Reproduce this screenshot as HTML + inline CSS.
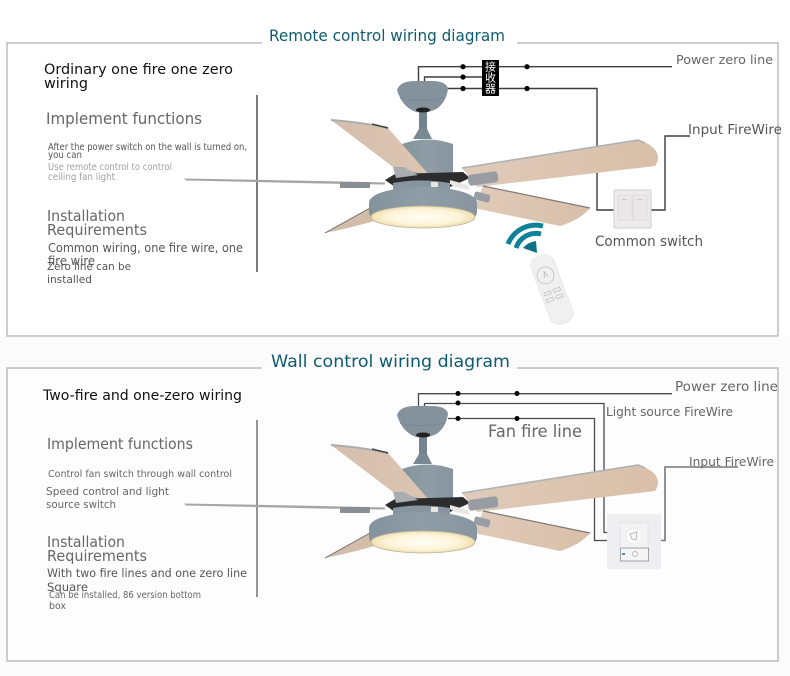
<!DOCTYPE html>
<html><head><meta charset="utf-8"><style>
html,body{margin:0;padding:0;background:#fff}
svg{display:block}
text{font-family:"DejaVu Sans","Liberation Sans","Noto Sans CJK SC",sans-serif;fill:#666}
</style></head><body>
<svg width="790" height="676" viewBox="0 0 790 676" xmlns="http://www.w3.org/2000/svg">
<defs>
<linearGradient id="wood" x1="0" y1="0" x2="1" y2="0"><stop offset="0" stop-color="#dfcbb9"/><stop offset="1" stop-color="#d9bfa9"/></linearGradient>
<linearGradient id="wood2" x1="0" y1="0" x2="1" y2="0"><stop offset="0" stop-color="#d5bfac"/><stop offset="1" stop-color="#dcc6b3"/></linearGradient>
<linearGradient id="grey" x1="0" y1="0" x2="1" y2="0"><stop offset="0" stop-color="#84929c"/><stop offset=".5" stop-color="#8f9da6"/><stop offset="1" stop-color="#88959f"/></linearGradient>
<radialGradient id="lamp"><stop offset="0" stop-color="#fffef6"/><stop offset=".7" stop-color="#fdf4d8"/><stop offset="1" stop-color="#f0deae"/></radialGradient>
<g id="fan">
 <path d="M325 233L370 208L378 220Q350 228 325 233Z" fill="#d3bda9"/>
 <path d="M325 233L370 208" stroke="#6f6a66" stroke-width="1" fill="none"/>
 <path d="M462 168L638 140Q658 146 658 158Q657 164 655 166L477 187Z" fill="url(#wood)"/>
 <path d="M462 168L638 140L645 143" stroke="#aeb2b5" stroke-width="1.600" fill="none"/>
 <path d="M483 186L590 208Q580 220 560 226L474 208Z" fill="url(#wood)"/>
 <path d="M483 186L590 208" stroke="#7e7a78" stroke-width="1.200" fill="none"/>
 <path d="M402 144Q427 135 453 144V176H402Z" fill="url(#grey)"/>
 <path d="M331 120L388 128L430 176L393 167Z" fill="url(#wood2)"/>
 <path d="M331 120Q360 122 388 128" stroke="#a9adb0" stroke-width="2" fill="none"/>
 <path d="M372 124L388 128" stroke="#444" stroke-width="1.500" fill="none"/>
 <path d="M397 90Q400 81 415 81H432Q445 81 448 88Q447 100 438 108Q428 114 416 112Q402 107 397 90Z" fill="#84929d"/>
 <path d="M400 98Q422 103 445 98" stroke="#7a8893" stroke-width="1" fill="none"/>
 <rect x="419" y="109" width="8" height="22" fill="#75838e"/>
 <ellipse cx="423" cy="110" rx="7" ry="2.500" fill="#222"/>
 <path d="M419 129H427L432 139H413Z" fill="#7a8893"/>
 <path d="M385 180L395 174L463 172L470 178L450 187H395Z" fill="#2c2c2e"/>
 <path d="M393 167L404 167L418 175L396 178Z" fill="#a9adb1"/>
 <rect x="468" y="173" width="30" height="11" rx="3" fill="#979da3" transform="rotate(-8 483 178)"/>
 <rect x="474" y="193" width="16" height="8" rx="2" fill="#979da3" transform="rotate(14 482 197)"/>
 <path d="M184 178.500L320 181L385 182.500V184.500L320 183.500L186 180.500Z" fill="#a6a5a4"/>
 <rect x="340" y="182" width="30" height="6" rx="1" fill="#888e93"/>
 <path d="M450 180L468 185L470 190L455 187L450 184Z" fill="#e8e6e2"/>
 <path d="M393 183Q420 178 450 183V192H393Z" fill="#8795a0"/>
 <path d="M369 203C369 193 395 187 423 187C451 187 477 193 477 203V212C477 223 450 228 423 228C396 228 369 223 369 212Z" fill="url(#grey)"/>
 <ellipse cx="423" cy="217" rx="52" ry="11" fill="url(#lamp)" stroke="#b8b39f" stroke-width=".8"/>
 <rect x="431" y="182" width="7" height="5" fill="#e6e6e6"/>
</g>
</defs>

<rect width="790" height="676" fill="#fff"/>
<rect x="0" y="337" width="790" height="339" fill="#fbfbfb"/>
<rect x="8" y="44" width="769" height="292" fill="#fff"/>
<rect x="8" y="369" width="769" height="292" fill="#fdfdfd"/>

<!-- frames -->
<path d="M262 43H7V336H778V43H517" fill="none" stroke="#bdbdbd" stroke-width="1.500"/>
<path d="M262 368H7V661H778V368H517" fill="none" stroke="#bdbdbd" stroke-width="1.500"/>

<!-- dividers -->
<rect x="256" y="95" width="2" height="177" fill="#7c7c7c"/>
<rect x="256" y="420" width="2" height="177" fill="#949494"/>

<!-- wires 1 -->
<g fill="none" stroke="#3d3d3d" stroke-width="1.400">
 <path d="M418.500 82V66.700H672"/>
 <path d="M424.500 82V77H490"/>
 <path d="M448 88.500H597V210H614"/>
 <path d="M651 210H665V136H690"/>
</g>
<g fill="#000"><circle cx="463" cy="66.700" r="2.600"/><circle cx="463" cy="77" r="2.600"/><circle cx="463" cy="88.500" r="2.600"/><circle cx="527" cy="66.700" r="2.600"/><circle cx="527" cy="88.500" r="2.600"/></g>

<!-- wires 2 -->
<g fill="none" stroke="#4a4a4a" stroke-width="1.300">
 <path d="M418.500 407V393.700H672"/>
 <path d="M424.500 407V403.500H604V532.500H608"/>
 <path d="M448 418.500H594.500V540.500H608"/>
 <path d="M661 540.500H665V467H738" stroke="#777" stroke-width="1.600"/>
</g>
<g fill="#000"><circle cx="458" cy="393.500" r="2.500"/><circle cx="458" cy="403" r="2.500"/><circle cx="458" cy="418.500" r="2.500"/><circle cx="517" cy="393.500" r="2.500"/><circle cx="517" cy="418.500" r="2.500"/></g>

<use href="#fan"/>
<use href="#fan" y="325"/>

<!-- receiver -->
<rect x="482" y="60" width="17" height="36" fill="#000"/>
<text x="490.500" y="70.500" font-size="11" text-anchor="middle" style="fill:#fff;font-family:'Noto Sans CJK SC',sans-serif">接</text>
<text x="490.500" y="81.500" font-size="11" text-anchor="middle" style="fill:#fff;font-family:'Noto Sans CJK SC',sans-serif">收</text>
<text x="490.500" y="92.500" font-size="11" text-anchor="middle" style="fill:#fff;font-family:'Noto Sans CJK SC',sans-serif">器</text>

<!-- switch -->
<rect x="614" y="190" width="37" height="38" rx="1.500" fill="#eeebec" stroke="#d2cecf"/>
<rect x="618" y="195" width="14" height="25" rx="1" fill="#ebe7e9" stroke="#dbd7d9" stroke-width=".7"/>
<rect x="633" y="195" width="14" height="25" rx="1" fill="#ebe7e9" stroke="#dbd7d9" stroke-width=".7"/>
<rect x="622" y="199" width="5" height="1" fill="#ccc"/><rect x="637" y="199" width="5" height="1" fill="#ccc"/>

<!-- wifi -->
<g fill="none" stroke="#0f8298" stroke-width="5">
 <path d="M508 244A30 30 0 0 1 543 226"/>
 <path d="M516 248A21 21 0 0 1 541 234"/>
</g>
<path d="M523 248Q528 242 536 241L537 253Z" fill="#0f7388"/>

<!-- remote -->
<g transform="rotate(-21 552 289.500)">
 <rect x="540" y="254" width="24" height="71" rx="9" fill="#f0f0f1" stroke="#e0e0e0" stroke-width=".6"/>
 <circle cx="551" cy="274" r="8.500" fill="none" stroke="#bbb" stroke-width=".7"/>
 <path d="M549 276L551 270L553 276" fill="none" stroke="#aaa" stroke-width=".7"/>
 <g fill="none" stroke="#b5b5b5" stroke-width=".6">
  <rect x="543" y="290" width="7" height="3"/><rect x="553" y="290" width="7" height="3"/>
  <rect x="543" y="297" width="7" height="3"/><rect x="553" y="297" width="7" height="3"/>
 </g>
</g>

<!-- wall panel -->
<rect x="607" y="514" width="54" height="55" rx="1.500" fill="#eeeef0"/>
<rect x="620" y="523" width="28" height="38" fill="#f3f3f4" stroke="#dadada" stroke-width=".6"/>
<circle cx="634" cy="536" r="8" fill="#fafafa" stroke="#e2e2e2" stroke-width=".6"/>
<path d="M630 534L637 532L636 540L632 539Z" fill="none" stroke="#aaa" stroke-width=".8"/>
<rect x="620.500" y="548" width="28" height="13" fill="#f5f5f5" stroke="#8f8f8f" stroke-width=".8"/>
<rect x="622" y="553" width="3" height="2" fill="#4a8fa5"/>
<circle cx="635" cy="554" r="2.500" fill="none" stroke="#aaa" stroke-width=".7"/>

<!-- titles -->
<text x="269" y="41" font-size="16" textLength="236" lengthAdjust="spacingAndGlyphs" style="fill:#0f5c70">Remote control wiring diagram</text>
<text x="271" y="367" font-size="17" textLength="239" lengthAdjust="spacingAndGlyphs" style="fill:#0f5c70">Wall control wiring diagram</text>

<!-- left text 1 -->
<text x="44" y="74" font-size="14" textLength="189" lengthAdjust="spacingAndGlyphs" style="fill:#111">Ordinary one fire one zero</text>
<text x="44" y="88" font-size="14" textLength="44" lengthAdjust="spacingAndGlyphs" style="fill:#111">wiring</text>
<text x="46" y="124" font-size="16" textLength="156" lengthAdjust="spacingAndGlyphs">Implement functions</text>
<text x="48" y="150" font-size="10" textLength="199" lengthAdjust="spacingAndGlyphs" style="fill:#555">After the power switch on the wall is turned on,</text>
<text x="48" y="158" font-size="10" textLength="34" lengthAdjust="spacingAndGlyphs" style="fill:#555">you can</text>
<text x="48" y="170" font-size="10" textLength="124" lengthAdjust="spacingAndGlyphs" style="fill:#a0a0a0">Use remote control to control</text>
<text x="48" y="180" font-size="10" textLength="67" lengthAdjust="spacingAndGlyphs" style="fill:#a0a0a0">ceiling fan light</text>
<text x="47" y="221" font-size="15" textLength="78" lengthAdjust="spacingAndGlyphs">Installation</text>
<text x="47" y="235" font-size="15" textLength="100" lengthAdjust="spacingAndGlyphs">Requirements</text>
<text x="48" y="252" font-size="12.500" textLength="195" lengthAdjust="spacingAndGlyphs" style="fill:#555">Common wiring, one fire wire, one</text>
<text x="48" y="265" font-size="12.500" textLength="47" lengthAdjust="spacingAndGlyphs" style="fill:#555">fire wire</text>
<text x="47" y="270" font-size="11" textLength="84" lengthAdjust="spacingAndGlyphs" style="fill:#555">Zero line can be</text>
<text x="47" y="283" font-size="11" textLength="45" lengthAdjust="spacingAndGlyphs" style="fill:#555">installed</text>

<!-- left text 2 -->
<text x="43" y="400" font-size="14" textLength="199" lengthAdjust="spacingAndGlyphs" style="fill:#111">Two-fire and one-zero wiring</text>
<text x="47" y="449" font-size="15" textLength="146" lengthAdjust="spacingAndGlyphs">Implement functions</text>
<text x="48" y="477" font-size="10" textLength="184" lengthAdjust="spacingAndGlyphs">Control fan switch through wall control</text>
<text x="46" y="495" font-size="11" textLength="123" lengthAdjust="spacingAndGlyphs">Speed control and light</text>
<text x="46" y="508" font-size="11" textLength="70" lengthAdjust="spacingAndGlyphs">source switch</text>
<text x="47" y="547" font-size="15" textLength="78" lengthAdjust="spacingAndGlyphs">Installation</text>
<text x="47" y="561" font-size="15" textLength="100" lengthAdjust="spacingAndGlyphs">Requirements</text>
<text x="47" y="577" font-size="11.500" textLength="200" lengthAdjust="spacingAndGlyphs" style="fill:#555">With two fire lines and one zero line</text>
<text x="47" y="591" font-size="11.500" textLength="41" lengthAdjust="spacingAndGlyphs" style="fill:#555">Square</text>
<text x="49" y="598" font-size="10" textLength="152" lengthAdjust="spacingAndGlyphs">Can be installed, 86 version bottom</text>
<text x="49" y="609" font-size="10" textLength="17" lengthAdjust="spacingAndGlyphs">box</text>

<!-- right labels -->
<text x="676" y="64" font-size="12.500" textLength="97" lengthAdjust="spacingAndGlyphs">Power zero line</text>
<text x="688" y="134" font-size="13.500" textLength="94" lengthAdjust="spacingAndGlyphs" style="fill:#555">Input FireWire</text>
<text x="595" y="246" font-size="14" textLength="108" lengthAdjust="spacingAndGlyphs" style="fill:#555">Common switch</text>
<text x="675" y="391" font-size="13.500" textLength="103" lengthAdjust="spacingAndGlyphs">Power zero line</text>
<text x="606" y="416" font-size="12.500" textLength="127" lengthAdjust="spacingAndGlyphs">Light source FireWire</text>
<text x="488" y="437" font-size="17" textLength="94" lengthAdjust="spacingAndGlyphs">Fan fire line</text>
<text x="689" y="466" font-size="12" textLength="85" lengthAdjust="spacingAndGlyphs">Input FireWire</text>
</svg>
</body></html>
